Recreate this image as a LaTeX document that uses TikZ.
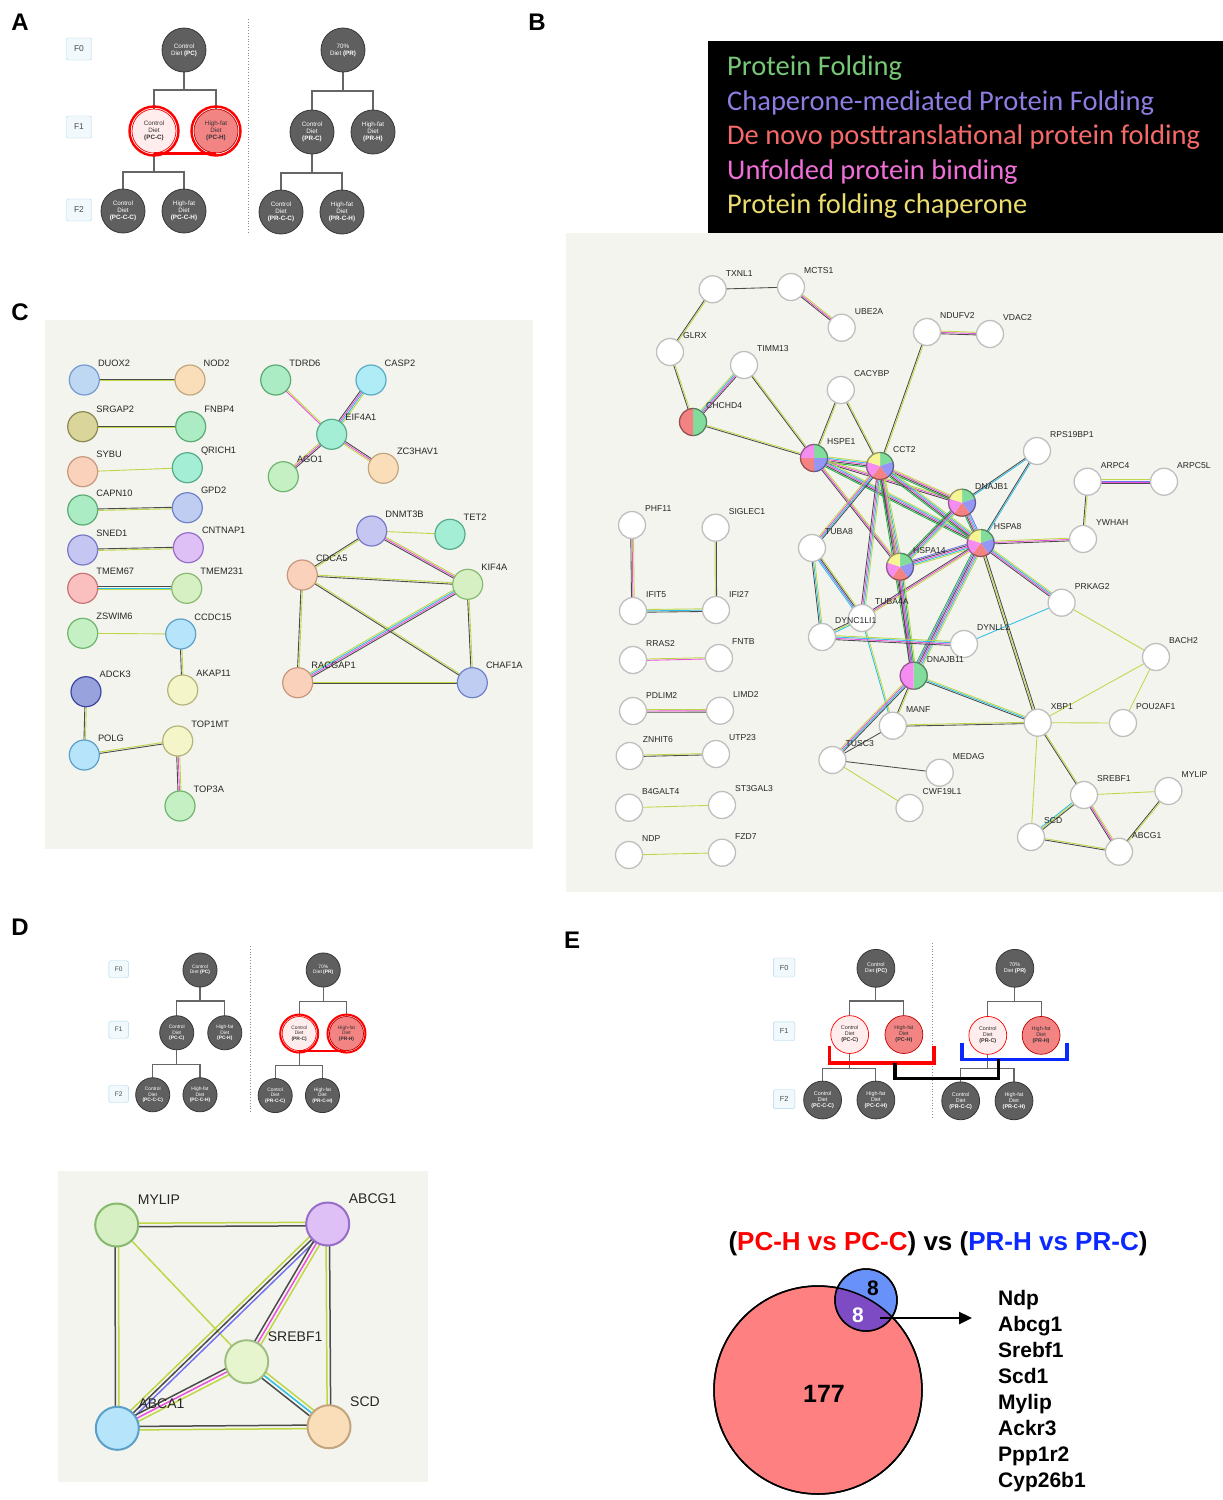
\documentclass[tikz,border=0pt]{standalone}
\usepackage{fontspec}
\setmainfont{Liberation Sans}
\newfontfamily\calib{Carlito}
\usetikzlibrary{calc,arrows.meta}
\pgfdeclarelayer{panelbg}
\pgfdeclarelayer{edges}
\pgfsetlayers{panelbg,edges,main}
% edge colours
\definecolor{ek}{RGB}{75,75,75}
\definecolor{etm}{RGB}{190,215,70}
\definecolor{eex}{RGB}{235,80,220}
\definecolor{edb}{RGB}{45,190,230}
\definecolor{eco}{RGB}{115,115,240}
\definecolor{egr}{RGB}{30,180,70}
\definecolor{bgpanel}{RGB}{244,244,239}
% pie colours
\definecolor{pg}{RGB}{130,220,155}
\definecolor{pb}{RGB}{150,150,245}
\definecolor{pr}{RGB}{245,130,130}
\definecolor{pk}{RGB}{245,140,240}
\definecolor{py}{RGB}{245,245,150}
% node colours (fill / stroke)
\definecolor{lblue}{RGB}{190,215,242}\definecolor{lblued}{RGB}{115,155,205}
\definecolor{peach}{RGB}{250,222,186}\definecolor{peachd}{RGB}{195,165,125}
\definecolor{olive}{RGB}{218,214,155}\definecolor{olived}{RGB}{140,135,80}
\definecolor{mint}{RGB}{172,236,196}\definecolor{mintd}{RGB}{90,170,115}
\definecolor{salm}{RGB}{250,210,188}\definecolor{salmd}{RGB}{200,150,125}
\definecolor{aqua}{RGB}{165,238,214}\definecolor{aquad}{RGB}{85,170,140}
\definecolor{periw}{RGB}{192,205,242}\definecolor{periwd}{RGB}{110,130,200}
\definecolor{lav}{RGB}{198,198,242}\definecolor{lavd}{RGB}{120,120,200}
\definecolor{lilac}{RGB}{222,192,246}\definecolor{lilacd}{RGB}{150,110,200}
\definecolor{rose}{RGB}{250,192,192}\definecolor{rosed}{RGB}{200,115,115}
\definecolor{lgreen}{RGB}{214,240,196}\definecolor{lgreend}{RGB}{135,185,110}
\definecolor{sky}{RGB}{182,228,250}\definecolor{skyd}{RGB}{90,160,200}
\definecolor{cream}{RGB}{245,245,202}\definecolor{creamd}{RGB}{180,180,120}
\definecolor{navy}{RGB}{152,162,220}\definecolor{navyd}{RGB}{60,70,160}
\definecolor{cyanl}{RGB}{176,236,246}\definecolor{cyanld}{RGB}{90,170,195}
\definecolor{grn}{RGB}{196,240,196}\definecolor{grnd}{RGB}{110,180,110}
\definecolor{lime}{RGB}{230,245,205}\definecolor{limed}{RGB}{160,190,130}
% tree colours
\definecolor{treeg}{RGB}{95,95,95}
\definecolor{treegd}{RGB}{55,55,55}
\definecolor{fboxd}{RGB}{170,215,235}
\definecolor{fboxf}{RGB}{242,249,253}
\definecolor{lpink}{RGB}{255,236,236}
\definecolor{spink}{RGB}{242,132,132}
\definecolor{bred}{RGB}{255,0,0}
\definecolor{bblue}{RGB}{10,40,255}
% legend colours
\definecolor{lg1}{RGB}{118,200,118}
\definecolor{lg2}{RGB}{140,125,225}
\definecolor{lg3}{RGB}{245,105,105}
\definecolor{lg4}{RGB}{240,110,215}
\definecolor{lg5}{RGB}{235,220,110}
% venn
\definecolor{vred}{RGB}{255,128,128}
\definecolor{vblue}{RGB}{105,145,250}
\definecolor{vpurp}{RGB}{125,75,195}

\newcommand\gn[5]{%
  \node[#1] (#2) at (#3,#4) {};
  \node[glabel] (#2-l) at ($(#2.center)+(\lx,\ly)$) {#5};}

\newcommand\sedge[3]{%
  \gdef\encount{0}%
  \foreach \ecol in {#3}{\xdef\encount{\the\numexpr\encount+1\relax}}%
  \foreach \ecol [count=\ei] in {#3}{%
    \pgfmathsetmacro\eoff{(\ei-(\encount+1)/2)*\esep}%
    \draw[line width=\ewid,\ecol] ($(#1)!\eoff pt!90:(#2)$) -- ($(#2)!\eoff pt!-90:(#1)$);
  }}

\newcommand\piefill[3]{%
  \gdef\sln{0}%
  \foreach \slc in {#3}{\xdef\sln{\the\numexpr\sln+1\relax}}%
  \foreach \slc [count=\sli] in {#3}{%
    \pgfmathsetmacro\sla{90-(\sli-1)*360/\sln}%
    \pgfmathsetmacro\slb{90-\sli*360/\sln}%
    \fill[\slc] (#1.center) -- ++(\sla:#2pt) arc[start angle=\sla, end angle=\slb, radius=#2pt] -- cycle;
    \draw[\slc!60!black, line width=1.2pt] ($(#1.center)+(\sla:#2pt)$) arc[start angle=\sla, end angle=\slb, radius=#2pt];
  }}

\newcommand\dtree[3]{%
\begin{scope}[#2]
 \node[fbox,scale=#3] (#1-f0) at (79,49) {F0};
 \node[fbox,scale=#3] (#1-f1) at (79,127) {F1};
 \node[fbox,scale=#3] (#1-f2) at (79,210) {F2};
 \node[dn,scale=#3] (#1-pc) at (184,50) {Control\\Diet \textbf{(PC)}};
 \node[dn,hpcc,scale=#3] (#1-pcc) at (154,131) {Control\\Diet\\\textbf{(PC-C)}};
 \node[dn,hpch,scale=#3] (#1-pch) at (216,131) {High-fat\\Diet\\\textbf{(PC-H)}};
 \node[dn,scale=#3] (#1-pccc) at (123,211) {Control\\Diet\\\textbf{(PC-C-C)}};
 \node[dn,scale=#3] (#1-pcch) at (184,211) {High-fat\\Diet\\\textbf{(PC-C-H)}};
 \node[dn,scale=#3] (#1-pr) at (343,50) {70\%\\Diet \textbf{(PR)}};
 \node[dn,hprc,scale=#3] (#1-prc) at (312,132) {Control\\Diet\\\textbf{(PR-C)}};
 \node[dn,hprh,scale=#3] (#1-prh) at (373,132) {High-fat\\Diet\\\textbf{(PR-H)}};
 \node[dn,scale=#3] (#1-prcc) at (281,212) {Control\\Diet\\\textbf{(PR-C-C)}};
 \node[dn,scale=#3] (#1-prch) at (342,212) {High-fat\\Diet\\\textbf{(PR-C-H)}};
 \draw[dotline] (248.5,19) -- (248.5,234);
 \begin{pgfonlayer}{edges}
 \draw[tline] (#1-pc.center) -- ++(0,40) -| (#1-pch.center);
 \draw[tline] (#1-pc.center) ++(0,40) -| (#1-pcc.center);
 \draw[tline] (#1-pcc.center) -- ++(0,41) -| (#1-pcch.center);
 \draw[tline] (#1-pcc.center) ++(0,41) -| (#1-pccc.center);
 \draw[tline] (#1-pr.center) -- ++(0,41) -| (#1-prh.center);
 \draw[tline] (#1-pr.center) ++(0,41) -| (#1-prc.center);
 \draw[tline] (#1-prc.center) -- ++(0,41) -| (#1-prch.center);
 \draw[tline] (#1-prc.center) ++(0,41) -| (#1-prcc.center);
 \end{pgfonlayer}
\end{scope}}

\begin{document}
\begin{tikzpicture}[x=1pt,y=-1pt,
  dn/.style={circle, minimum size=44pt, inner sep=0pt, fill=treeg, draw=treegd, line width=0.8pt, text=white, align=center, font=\fontsize{6.3}{7}\selectfont},
  fbox/.style={draw=fboxd, fill=fboxf, rounded corners=1.5pt, minimum width=25pt, minimum height=22pt, inner sep=0pt, text=black!70, font=\fontsize{8.5}{9}\selectfont},
  tline/.style={draw=black!60, line width=1.1pt},
  dotline/.style={draw=black!45, line width=0.8pt, dotted},
  ring/.style={draw=red, line width=2.4pt},
  hpcc/.style={}, hpch/.style={}, hprc/.style={}, hprh/.style={},
  hlc/.style={fill=lpink, draw=red, line width=0.7pt, text=black!80},
  hlh/.style={fill=spink, draw=red!75!black, line width=0.7pt, text=black!80},
  letter/.style={font=\bfseries\fontsize{24}{26}\selectfont, inner sep=0pt},
  bn/.style={circle, minimum size=27pt, inner sep=0pt, fill=white, draw=black!25, line width=1.3pt},
  cn/.style={circle, minimum size=30pt, inner sep=0pt, line width=1.2pt, fill=#1, draw=#1d},
  dnn/.style={cn=#1, minimum size=43pt, line width=2pt},
  legt/.style={anchor=west, inner sep=0pt, font=\calib\fontsize{28.5}{30}\selectfont},
]
\useasboundingbox (0,0) rectangle (1223,1500);
\begin{pgfonlayer}{panelbg}
  \fill[white] (0,0) rectangle (1223,1500);
  \fill[bgpanel] (566,233) rectangle (1223,892);
  \fill[bgpanel] (45,320) rectangle (533,849);
  \fill[bgpanel] (58,1171) rectangle (428,1482);
\end{pgfonlayer}

% ---------- panel letters
\node[letter] (LA) at (20,22) {A};
\node[letter] (LB) at (537,22) {B};
\node[letter] (LC) at (20,312) {C};
\node[letter] (LD) at (20,927) {D};
\node[letter] (LE) at (572,940) {E};

% ---------- panel A
\tikzset{hpcc/.style=hlc, hpch/.style=hlh}
\dtree{A}{}{1}
\draw[ring] (A-pcc.center) circle[radius=24.5pt];
\draw[ring] (A-pch.center) circle[radius=24.5pt];
\draw[ring] ($(A-pcc.center)+(0,22.5)$) -- ($(A-pch.center)+(0,22.5)$);

% ---------- panel D tree
\tikzset{hpcc/.style={}, hpch/.style={}, hprc/.style=hlc, hprh/.style=hlh}
\dtree{D}{shift={(57.4,931.25)}, scale=0.775}{0.775}
\draw[ring, line width=2pt] (D-prc.center) circle[radius=19pt];
\draw[ring, line width=2pt] (D-prh.center) circle[radius=19pt];
\draw[ring, line width=2pt] ($(D-prc.center)+(0,17.5)$) -- ($(D-prh.center)+(0,17.5)$);

% ---------- panel E tree
\tikzset{hpcc/.style=hlc, hpch/.style=hlh, hprc/.style=hlc, hprh/.style=hlh}
\dtree{E}{shift={(715.1,927.4)}, xscale=0.874, yscale=0.818}{0.86}
\draw[bred, line width=3.6pt] (829.3,1046) -- (829.3,1062.7) -- (934,1062.7) -- (934,1046);
\draw[bblue, line width=3.6pt] (961.7,1043.3) -- (961.7,1059.3) -- (1066.7,1059.3) -- (1066.7,1043.3);
\draw[black, line width=3.6pt] (895,1062.7) -- (895,1078.3) -- (998.3,1078.3) -- (998.3,1059.3);

% ---------- legend B
\fill[black] (708,41) rectangle (1223,233);
\node[legt, text=lg1] (lgA) at (727,68) {Protein Folding};
\node[legt, text=lg2] (lgB) at (727,103) {Chaperone-mediated Protein Folding};
\node[legt, text=lg3] (lgC) at (727,137) {De novo posttranslational protein folding};
\node[legt, text=lg4] (lgD) at (727,172) {Unfolded protein binding};
\node[legt, text=lg5] (lgE) at (727,206) {Protein folding chaperone};

% ---------- panel B network
\def\lx{13}\def\ly{-16}
\tikzset{glabel/.style={font=\fontsize{8.6}{9}\selectfont, anchor=west, inner sep=0pt, text=black!85}}
\gn{bn}{bTXNL1}{712.6}{289.3}{TXNL1}
\gn{bn}{bMCTS1}{791}{287}{MCTS1}
\gn{bn}{bUBE2A}{841.7}{327.7}{UBE2A}
\gn{bn}{bGLRX}{670}{352}{GLRX}
\gn{bn}{bTIMM13}{744}{365}{TIMM13}
\gn{bn}{bCACYBP}{840.8}{390}{CACYBP}
\gn{bn}{bNDUFV2}{927}{332}{NDUFV2}
\gn{bn}{bVDAC2}{990}{334}{VDAC2}
\gn{bn}{bCHCHD4}{693}{422}{CHCHD4}
\gn{bn}{bHSPE1}{814}{458}{HSPE1}
\gn{bn}{bCCT2}{880}{466}{CCT2}
\gn{bn}{bRPS19BP1}{1037}{451}{RPS19BP1}
\gn{bn}{bARPC4}{1087.6}{481.7}{ARPC4}
\gn{bn}{bARPC5L}{1164}{481.7}{ARPC5L}
\gn{bn}{bDNAJB1}{962}{502.7}{DNAJB1}
\gn{bn}{bHSPA8}{980.7}{543}{HSPA8}
\gn{bn}{bYWHAH}{1083}{539}{YWHAH}
\gn{bn}{bPHF11}{632}{525}{PHF11}
\gn{bn}{bSIGLEC1}{715.6}{527.7}{SIGLEC1}
\gn{bn}{bTUBA8}{812}{548}{TUBA8}
\gn{bn}{bHSPA14}{900}{566.7}{HSPA14}
\gn{bn}{bIFIT5}{633}{611}{IFIT5}
\gn{bn}{bIFI27}{716}{610}{IFI27}
\gn{bn}{bTUBA4A}{862}{618}{TUBA4A}
\gn{bn}{bDYNC1LI1}{822}{637}{DYNC1LI1}
\gn{bn}{bDYNLL1}{964}{644}{DYNLL1}
\gn{bn}{bDNAJB11}{913.7}{675.7}{DNAJB11}
\gn{bn}{bPRKAG2}{1061.6}{602.7}{PRKAG2}
\gn{bn}{bBACH2}{1156}{657}{BACH2}
\gn{bn}{bXBP1}{1037.7}{722.7}{XBP1}
\gn{bn}{bPOU2AF1}{1123}{723}{POU2AF1}
\gn{bn}{bMANF}{892.8}{725.7}{MANF}
\gn{bn}{bTUSC3}{832.4}{760}{TUSC3}
\gn{bn}{bMEDAG}{939.7}{772.7}{MEDAG}
\gn{bn}{bCWF19L1}{909.5}{808}{CWF19L1}
\gn{bn}{bSREBF1}{1084}{795}{SREBF1}
\gn{bn}{bMYLIP}{1168.4}{791}{MYLIP}
\gn{bn}{bSCD}{1031}{837}{SCD}
\gn{bn}{bABCG1}{1119}{851.7}{ABCG1}
\gn{bn}{bRRAS2}{633}{660}{RRAS2}
\gn{bn}{bFNTB}{719}{658}{FNTB}
\gn{bn}{bPDLIM2}{633}{711}{PDLIM2}
\gn{bn}{bLIMD2}{720}{710.7}{LIMD2}
\gn{bn}{bZNHIT6}{629.7}{756}{ZNHIT6}
\gn{bn}{bUTP23}{716}{754}{UTP23}
\gn{bn}{bB4GALT4}{629}{807.7}{B4GALT4}
\gn{bn}{bST3GAL3}{722}{805}{ST3GAL3}
\gn{bn}{bNDP}{629}{855}{NDP}
\gn{bn}{bFZD7}{722}{852.7}{FZD7}
\piefill{bCHCHD4}{13.5}{pg,pr}
\piefill{bHSPE1}{13.5}{pg,pb,pr,pk}
\piefill{bCCT2}{13.5}{pg,pb,pr,pk,py}
\piefill{bDNAJB1}{13.5}{pg,pb,pr,pk,py}
\piefill{bHSPA8}{13.5}{pg,pb,pr,pk,py}
\piefill{bHSPA14}{13.5}{pg,pb,pr,pk,py}
\piefill{bDNAJB11}{13.5}{pg,pk}

\def\esep{1.35}\def\ewid{0.85pt}
\begin{pgfonlayer}{edges}
\sedge{bTXNL1}{bMCTS1}{ek}
\sedge{bMCTS1}{bUBE2A}{ek,eex,etm}
\sedge{bTXNL1}{bGLRX}{ek,etm}
\sedge{bGLRX}{bCHCHD4}{ek,etm}
\sedge{bTIMM13}{bCHCHD4}{etm,edb,eex,ek}
\sedge{bTIMM13}{bHSPE1}{ek,etm}
\sedge{bCHCHD4}{bHSPE1}{ek,etm}
\sedge{bCACYBP}{bHSPE1}{ek,etm}
\sedge{bCACYBP}{bCCT2}{ek,etm}
\sedge{bNDUFV2}{bCCT2}{ek,etm}
\sedge{bNDUFV2}{bVDAC2}{ek,eex,etm}
\sedge{bHSPE1}{bCCT2}{egr,ek,eex,edb,etm}
\sedge{bHSPE1}{bDNAJB1}{ek,eex,etm}
\sedge{bHSPE1}{bHSPA8}{egr,ek,eex,edb,etm}
\sedge{bHSPE1}{bHSPA14}{ek,eex,etm}
\sedge{bCCT2}{bDNAJB1}{egr,ek,eex,etm}
\sedge{bCCT2}{bHSPA8}{egr,ek,eex,edb,etm}
\sedge{bCCT2}{bHSPA14}{egr,ek,eex,edb,etm}
\sedge{bCCT2}{bTUBA8}{etm,eex,edb,ek}
\sedge{bCCT2}{bTUBA4A}{ek,eex,edb,etm}
\sedge{bCCT2}{bDNAJB11}{egr,ek,eex,etm}
\sedge{bDNAJB1}{bHSPA8}{egr,ek,eex,edb,eco}
\sedge{bDNAJB1}{bHSPA14}{egr,ek,eex,edb,etm}
\sedge{bDNAJB1}{bRPS19BP1}{edb,ek}
\sedge{bHSPA8}{bRPS19BP1}{edb,ek}
\sedge{bHSPA8}{bHSPA14}{eco,ek,eex,edb,etm}
\sedge{bHSPA8}{bYWHAH}{ek,eex,etm}
\sedge{bHSPA8}{bPRKAG2}{ek,eex,edb,etm}
\sedge{bHSPA8}{bDNAJB11}{egr,eco,ek,eex,edb,etm}
\sedge{bHSPA8}{bXBP1}{ek,etm,ek}
\sedge{bHSPA8}{bTUBA4A}{ek,eex,etm}
\sedge{bHSPA14}{bDNAJB11}{ek,eex,eco,egr,etm}
\sedge{bARPC4}{bARPC5L}{ek,eex,eco,etm}
\sedge{bARPC4}{bYWHAH}{ek,etm}
\sedge{bTUBA8}{bTUBA4A}{edb,eco,ek,etm}
\sedge{bTUBA8}{bDYNC1LI1}{ek,edb,etm}
\sedge{bTUBA4A}{bDYNC1LI1}{ek,etm,edb}
\sedge{bTUBA4A}{bMANF}{edb,etm}
\sedge{bDYNC1LI1}{bDYNLL1}{ek,eex,edb,etm}
\sedge{bDYNLL1}{bPRKAG2}{edb}
\sedge{bDNAJB11}{bMANF}{ek,etm}
\sedge{bDNAJB11}{bXBP1}{ek,edb,etm}
\sedge{bDNAJB11}{bTUSC3}{etm,eex,edb,ek}
\sedge{bMANF}{bXBP1}{ek,etm}
\sedge{bMANF}{bTUSC3}{ek}
\sedge{bTUSC3}{bMEDAG}{ek}
\sedge{bTUSC3}{bCWF19L1}{etm}
\sedge{bXBP1}{bBACH2}{etm}
\sedge{bXBP1}{bPOU2AF1}{etm}
\sedge{bPRKAG2}{bBACH2}{etm}
\sedge{bBACH2}{bPOU2AF1}{etm}
\sedge{bXBP1}{bSREBF1}{ek,etm}
\sedge{bXBP1}{bSCD}{etm}
\sedge{bSREBF1}{bMYLIP}{etm}
\sedge{bSREBF1}{bSCD}{edb,etm,ek}
\sedge{bSREBF1}{bABCG1}{ek,eex,etm}
\sedge{bMYLIP}{bABCG1}{ek,etm}
\sedge{bSCD}{bABCG1}{ek,etm}
\sedge{bPHF11}{bIFIT5}{ek,eex,etm}
\sedge{bSIGLEC1}{bIFI27}{etm,ek}
\sedge{bIFIT5}{bIFI27}{ek,edb,etm}
\sedge{bRRAS2}{bFNTB}{eex,etm}
\sedge{bPDLIM2}{bLIMD2}{ek,eex,etm}
\sedge{bZNHIT6}{bUTP23}{ek,etm}
\sedge{bB4GALT4}{bST3GAL3}{etm}
\sedge{bNDP}{bFZD7}{etm}
\end{pgfonlayer}

% ---------- panel C network
\def\lx{13.5}\def\ly{-17}
\tikzset{glabel/.style={font=\fontsize{9.3}{10}\selectfont, anchor=west, inner sep=0pt, text=black!85}}
\gn{cn=lblue}{cDUOX2}{84.3}{380}{DUOX2}
\gn{cn=peach}{cNOD2}{190}{380}{NOD2}
\gn{cn=olive}{cSRGAP2}{82.7}{426.7}{SRGAP2}
\gn{cn=mint}{cFNBP4}{190.7}{426.7}{FNBP4}
\gn{cn=salm}{cSYBU}{82.7}{471.7}{SYBU}
\gn{cn=aqua}{cQRICH1}{187.3}{467.7}{QRICH1}
\gn{cn=mint}{cCAPN10}{82.7}{510}{CAPN10}
\gn{cn=periw}{cGPD2}{187.3}{507.7}{GPD2}
\gn{cn=lav}{cSNED1}{82.7}{550}{SNED1}
\gn{cn=lilac}{cCNTNAP1}{188.3}{547.7}{CNTNAP1}
\gn{cn=rose}{cTMEM67}{82.7}{588.3}{TMEM67}
\gn{cn=lgreen}{cTMEM231}{186.7}{588.3}{TMEM231}
\gn{cn=grn}{cZSWIM6}{82.7}{633.3}{ZSWIM6}
\gn{cn=sky}{cCCDC15}{180.7}{634}{CCDC15}
\gn{cn=cream}{cAKAP11}{182.7}{690}{AKAP11}
\gn{cn=navy}{cADCK3}{86}{691.7}{ADCK3}
\gn{cn=sky}{cPOLG}{84.3}{755}{POLG}
\gn{cn=cream}{cTOP1MT}{177.7}{741}{TOP1MT}
\gn{cn=grn}{cTOP3A}{180}{806}{TOP3A}
\gn{cn=mint}{cTDRD6}{275.7}{380}{TDRD6}
\gn{cn=cyanl}{cCASP2}{371}{380}{CASP2}
\gn{cn=aqua}{cEIF4A1}{331.7}{434.3}{EIF4A1}
\gn{cn=grn}{cAGO1}{283.3}{476.7}{AGO1}
\gn{cn=peach}{cZC3HAV1}{383.3}{468.3}{ZC3HAV1}
\gn{cn=lav}{cDNMT3B}{371.7}{531}{DNMT3B}
\gn{cn=aqua}{cTET2}{450}{534.3}{TET2}
\gn{cn=salm}{cCDCA5}{302.3}{575}{CDCA5}
\gn{cn=lgreen}{cKIF4A}{467.7}{584.3}{KIF4A}
\gn{cn=salm}{cRACGAP1}{297.7}{682.7}{RACGAP1}
\gn{cn=periw}{cCHAF1A}{472.3}{682.7}{CHAF1A}
\def\esep{1.5}\def\ewid{0.9pt}
\begin{pgfonlayer}{edges}
\sedge{cDUOX2}{cNOD2}{etm,ek}
\sedge{cSRGAP2}{cFNBP4}{etm,ek}
\sedge{cSYBU}{cQRICH1}{etm}
\sedge{cCAPN10}{cGPD2}{etm,ek}
\sedge{cSNED1}{cCNTNAP1}{etm,ek}
\sedge{cTMEM67}{cTMEM231}{etm,edb,ek}
\sedge{cZSWIM6}{cCCDC15}{etm}
\sedge{cCCDC15}{cAKAP11}{ek,etm}
\sedge{cADCK3}{cPOLG}{ek,etm}
\sedge{cPOLG}{cTOP1MT}{ek,etm}
\sedge{cTOP1MT}{cTOP3A}{ek,eex,etm}
\sedge{cTDRD6}{cEIF4A1}{eex,etm}
\sedge{cCASP2}{cEIF4A1}{ek,eex,edb,etm}
\sedge{cAGO1}{cEIF4A1}{ek,eex,etm}
\sedge{cZC3HAV1}{cEIF4A1}{ek,eex,etm}
\sedge{cDNMT3B}{cTET2}{etm}
\sedge{cDNMT3B}{cCDCA5}{ek,etm}
\sedge{cDNMT3B}{cKIF4A}{ek,eex,etm}
\sedge{cCDCA5}{cKIF4A}{ek,etm}
\sedge{cCDCA5}{cCHAF1A}{ek,etm}
\sedge{cCDCA5}{cRACGAP1}{ek,etm}
\sedge{cKIF4A}{cRACGAP1}{etm,edb,eex,ek}
\sedge{cKIF4A}{cCHAF1A}{ek,etm}
\sedge{cRACGAP1}{cCHAF1A}{ek,etm}
\end{pgfonlayer}

% ---------- panel D network
\def\lx{21}\def\ly{-25}
\tikzset{glabel/.style={font=\fontsize{14}{15}\selectfont, anchor=west, inner sep=0pt, text=black!85}}
\gn{dnn=lgreen}{dMYLIP}{116.7}{1225}{MYLIP}
\gn{dnn=lilac}{dABCG1}{327.7}{1224}{ABCG1}
\gn{dnn=lime}{dSREBF1}{246.7}{1361.7}{SREBF1}
\gn{dnn=sky}{dABCA1}{117.3}{1428.3}{ABCA1}
\gn{dnn=peach}{dSCD}{329}{1426.7}{SCD}
\def\esep{3.5}\def\ewid{1.5pt}
\begin{pgfonlayer}{edges}
\sedge{dMYLIP}{dABCG1}{ek,etm}
\sedge{dMYLIP}{dABCA1}{ek,etm}
\sedge{dMYLIP}{dSREBF1}{etm}
\sedge{dABCG1}{dSCD}{etm,ek}
\sedge{dABCG1}{dABCA1}{etm,ek,eco}
\sedge{dABCG1}{dSREBF1}{ek,eex,etm}
\sedge{dABCA1}{dSREBF1}{etm,eex,ek}
\sedge{dABCA1}{dSCD}{etm,ek}
\sedge{dSREBF1}{dSCD}{ek,edb,etm}
\end{pgfonlayer}

% ---------- panel E Venn
\node[font=\bfseries\fontsize{26}{30}\selectfont, inner sep=0pt] (vtitle) at (938,1244)
  {(\textcolor{bred}{PC-H vs PC-C}) vs (\textcolor{bblue}{PR-H vs PR-C})};
\node[circle, minimum size=208pt, inner sep=0pt, fill=vred, draw=black, line width=1.5pt] (vbig) at (818,1390) {};
\node[circle, minimum size=62pt, inner sep=0pt, fill=vblue, draw=black, line width=1.5pt] (vsmall) at (866,1300) {};
\begin{scope}
  \clip (vbig.center) circle[radius=104pt];
  \fill[vpurp] (vsmall.center) circle[radius=31pt];
\end{scope}
\draw[black, line width=1.5pt] (vbig.center) circle[radius=104pt];
\draw[black, line width=1.5pt] (vsmall.center) circle[radius=31pt];
\node[font=\bfseries\fontsize{21}{22}\selectfont, inner sep=0pt] (v8a) at (873,1288) {8};
\node[font=\bfseries\fontsize{21}{22}\selectfont, inner sep=0pt, text=white] (v8b) at (858,1315) {8};
\node[font=\bfseries\fontsize{25}{26}\selectfont, inner sep=0pt] (v177) at (824,1394) {177};
\coordinate (va) at (880,1318);
\coordinate (vb) at (972,1318);
\draw[line width=2.5pt, -{Triangle[length=13pt,width=12pt]}] (va) -- (vb);
\node[anchor=north west, align=left, inner sep=0pt, font=\bfseries\fontsize{21}{26}\selectfont] (genes) at (998,1290)
  {Ndp\\Abcg1\\Srebf1\\Scd1\\Mylip\\Ackr3\\Ppp1r2\\Cyp26b1};
\end{tikzpicture}
\end{document}
